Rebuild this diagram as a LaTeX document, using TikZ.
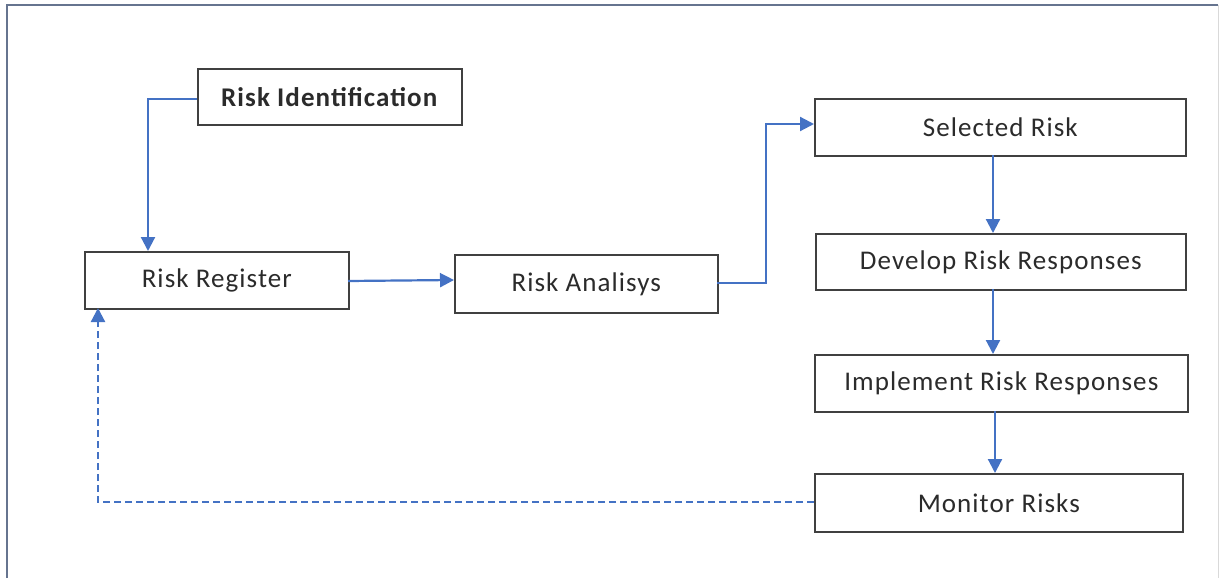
\documentclass[tikz,border=0pt]{standalone}
\usepackage{fontspec}
\setmainfont{Carlito}[LetterSpace=4]
\usetikzlibrary{arrows.meta}
\definecolor{flowblue}{HTML}{4472C4}
\definecolor{boxline}{HTML}{404040}
\definecolor{frameline}{HTML}{66748F}
\definecolor{textgray}{HTML}{2B2B2B}
\tikzset{
  stepbox/.style={draw=boxline, line width=1.6pt, fill=white, inner sep=0pt,
    anchor=north west},
  steptext/.style={text=textgray, font=\fontsize{27}{30}\selectfont},
  flow/.style={draw=flowblue, line width=2.2pt,
    -{Triangle[length=14pt,width=14pt]}},
  feedback/.style={flow, dash pattern=on 7pt off 4pt}
}
\newcommand{\stepnode}[6]{%
  \node[stepbox, minimum width=#4pt, minimum height=#5pt] (#1) at (#2pt,-#3pt) {};
  \node[steptext] (#1label) at (#1.center) {#6};
}
\begin{document}
\begin{tikzpicture}[x=1pt,y=1pt]
  \useasboundingbox (0,0) rectangle (1220,-578);
  % page frame
  \draw[frameline, line width=1.6pt] (7,-578) -- (7,-5) -- (1218,-5);
  \draw[black!15, line width=1pt] (1218,-5) -- (1218,-578);

  % process steps
  \stepnode{rid}{197}{68}{264}{56}{\textbf{Risk Identification}}
  \stepnode{rr}{84}{251}{264}{57}{Risk Register}
  \stepnode{ra}{454}{254}{263}{58}{Risk Analisys}
  \stepnode{sr}{814}{98}{371}{57}{Selected Risk}
  \stepnode{dev}{815}{233}{370}{56}{Develop Risk Responses}
  \stepnode{imp}{814}{354}{373}{57}{Implement Risk Responses}
  \stepnode{mon}{814}{473}{368}{58}{Monitor Risks}

  % routing points
  \coordinate (ridout) at (197,-99);
  \coordinate (rrin) at (148,-251);
  \coordinate (rrout) at (348,-281);
  \coordinate (rain) at (454,-280);
  \coordinate (raout) at (717,-283);
  \coordinate (bend) at (766,-283);
  \coordinate (srin) at (814,-124);
  \coordinate (srout) at (993,-155);
  \coordinate (devin) at (993,-233);
  \coordinate (devout) at (993,-289);
  \coordinate (impin) at (993,-354);
  \coordinate (impout) at (995,-411);
  \coordinate (monin) at (995,-473);
  \coordinate (monout) at (814,-502);
  \coordinate (rrback) at (98,-308);

  % connectors
  \draw[flow] (ridout) -| (rrin);
  \draw[flow] (rrout) -- (rain);
  \draw[flow] (raout) -- (bend) |- (srin);
  \draw[flow] (srout) -- (devin);
  \draw[flow] (devout) -- (impin);
  \draw[flow] (impout) -- (monin);
  \draw[feedback] (monout) -| (rrback);
\end{tikzpicture}
\end{document}
